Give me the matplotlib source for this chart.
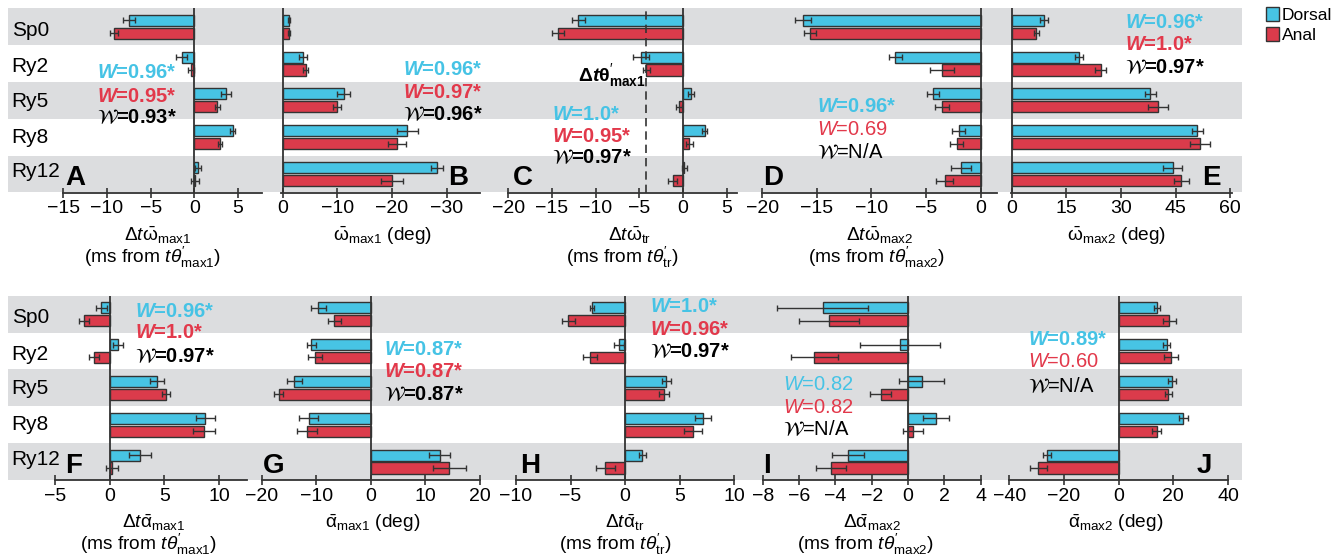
import matplotlib.pyplot as plt
from matplotlib.patches import Patch

plt.rcParams["font.family"] = ["Liberation Sans", "DejaVu Sans"]
plt.rcParams["mathtext.fontset"] = "custom"
plt.rcParams["mathtext.rm"] = "Liberation Sans"
plt.rcParams["mathtext.it"] = "Liberation Sans:italic"
plt.rcParams["mathtext.bf"] = "Liberation Sans:bold"
plt.rcParams["mathtext.bfit"] = "Liberation Sans:italic:bold"

W_PX, H_PX = 1342, 559
CYAN, RED, DARK, BAND = "#47C4E4", "#DB3B4B", "#333333", "#DCDDDF"
CYAN_TXT, RED_TXT = "#46C3E5", "#E2394B"

rows = ["Sp0", "Ry2", "Ry5", "Ry8", "Ry12"]

# --- top row: omega (dorsal / anal), mean and error --------------------------
a_dor = [-7.5, -1.45, 3.6, 4.4, 0.45]
a_dor_err = [0.65, 0.6, 0.6, 0.3, 0.35]
a_ana = [-9.2, -0.4, 2.6, 2.9, 0.1]
a_ana_err = [0.5, 0.35, 0.3, 0.25, 0.45]

b_dor = [-1.1, -3.7, -11.2, -22.8, -28.2]
b_dor_err = [0.2, 0.7, 1.2, 1.9, 1.1]
b_ana = [-1.1, -4.2, -9.9, -20.9, -20.0]
b_ana_err = [0.2, 0.5, 0.7, 1.7, 2.1]

c_dor = [-12.0, -4.8, 0.95, 2.5, 0.15]
c_dor_err = [0.75, 0.9, 0.38, 0.32, 0.3]
c_ana = [-14.3, -4.2, -0.4, 0.75, -1.15]
c_ana_err = [0.65, 0.38, 0.35, 0.38, 0.5]
c_theta_max1 = -4.2

d_dor = [-16.3, -7.8, -4.35, -2.0, -1.8]
d_dor_err = [0.75, 0.6, 0.55, 0.6, 0.9]
d_ana = [-15.6, -3.55, -3.55, -2.2, -3.3]
d_ana_err = [0.55, 1.1, 0.65, 0.6, 0.8]

e_dor = [8.8, 18.5, 38.1, 50.9, 44.2]
e_dor_err = [1.1, 1.2, 1.4, 1.5, 2.6]
e_ana = [6.8, 24.4, 40.2, 51.7, 46.6]
e_ana_err = [0.8, 1.4, 2.7, 2.8, 2.1]

# --- bottom row: alpha ----------------------------------------------------------
f_dor = [-0.75, 0.8, 4.3, 8.75, 2.8]
f_dor_err = [0.5, 0.45, 0.65, 0.85, 1.0]
f_ana = [-2.35, -1.45, 5.15, 8.6, 0.2]
f_ana_err = [0.42, 0.45, 0.4, 1.0, 0.55]

g_dor = [-9.6, -10.9, -14.0, -11.4, 12.6]
g_dor_err = [1.4, 0.8, 1.3, 1.8, 1.9]
g_ana = [-6.7, -10.2, -16.9, -11.7, 14.4]
g_ana_err = [1.2, 1.3, 0.8, 1.9, 3.1]

h_dor = [-3.05, -0.55, 3.8, 7.15, 1.6]
h_dor_err = [0.2, 0.43, 0.45, 0.75, 0.33]
h_ana = [-5.2, -3.2, 3.55, 6.25, -1.8]
h_ana_err = [0.6, 0.65, 0.45, 0.8, 0.85]

i_dor = [-4.7, -0.45, 0.75, 1.55, -3.3]
i_dor_err = [2.5, 2.2, 1.25, 0.73, 0.87]
i_ana = [-4.35, -5.15, -1.5, 0.3, -4.25]
i_ana_err = [1.65, 1.3, 0.57, 0.55, 0.83]

j_dor = [13.9, 17.6, 19.6, 23.7, -26.1]
j_dor_err = [1.1, 1.3, 1.4, 1.6, 1.5]
j_ana = [18.5, 19.1, 18.2, 13.9, -29.4]
j_ana_err = [2.4, 2.6, 1.3, 1.7, 3.1]

# W statistics: (dorsal, anal, combined), "*" = significant
a_stats = ("0.96*", "0.95*", "0.93*")
b_stats = ("0.96*", "0.97*", "0.96*")
c_stats = ("1.0*", "0.95*", "0.97*")
d_stats = ("0.96*", "0.69", "N/A")
e_stats = ("0.96*", "1.0*", "0.97*")
f_stats = ("0.96*", "1.0*", "0.97*")
g_stats = ("0.87*", "0.87*", "0.87*")
h_stats = ("1.0*", "0.96*", "0.97*")
i_stats = ("0.82", "0.82", "N/A")
j_stats = ("0.89*", "0.60", "N/A")

ROW_Y = {0: (8.3, 192.5), 1: (295.7, 480.0)}

panels = [
    dict(L="A", row=0, px=(63.3, 261.7), xlim=(-15, 7.7), ticks=[-15, -10, -5, 0, 5],
         d=(a_dor, a_dor_err, a_ana, a_ana_err), st=a_stats,
         st_xy=(96.7, [78.3, 101.7, 123.3]), let=65,
         lab=[(r"$\Delta t\mathrm{\bar{\omega}}_{\mathrm{max1}}$", 158),
              (r"(ms from $t\theta^{\prime}_{\mathrm{max1}}$)", 152.5)]),
    dict(L="B", row=0, px=(280.7, 480.0), xlim=(0.37, -36.1), ticks=[0, -10, -20, -30],
         d=(b_dor, b_dor_err, b_ana, b_ana_err), st=b_stats,
         st_xy=(403.3, [75, 98.3, 120]), let=448,
         lab=[(r"$\mathrm{\bar{\omega}}_{\mathrm{max1}}$ (deg)", 382.5)]),
    dict(L="C", row=0, px=(508.3, 737.0), xlim=(-20, 6.2), ticks=[-20, -15, -10, -5, 0, 5],
         d=(c_dor, c_dor_err, c_ana, c_ana_err), st=c_stats,
         st_xy=(551.7, [120, 141.7, 163.3]), let=513,
         lab=[(r"$\Delta t\mathrm{\bar{\omega}}_{\mathrm{tr}}$", 630),
              (r"(ms from $t\theta^{\prime}_{\mathrm{tr}}$)", 621.7)]),
    dict(L="D", row=0, px=(762.3, 996.7), xlim=(-20, 1.47), ticks=[-20, -15, -10, -5, 0],
         d=(d_dor, d_dor_err, d_ana, d_ana_err), st=d_stats,
         st_xy=(816.7, [111.7, 135, 158.3]), let=763,
         lab=[(r"$\Delta t\mathrm{\bar{\omega}}_{\mathrm{max2}}$", 880),
              (r"(ms from $t\theta^{\prime}_{\mathrm{max2}}$)", 876.7)]),
    dict(L="E", row=0, px=(1010.6, 1232.0), xlim=(-0.3, 60.5), ticks=[0, 15, 30, 45, 60],
         d=(e_dor, e_dor_err, e_ana, e_ana_err), st=e_stats,
         st_xy=(1125, [28.3, 50, 73.3]), let=1201.7,
         lab=[(r"$\mathrm{\bar{\omega}}_{\mathrm{max2}}$ (deg)", 1116.7)]),
    dict(L="F", row=1, px=(55.0, 247.3), xlim=(-5, 12.6), ticks=[-5, 0, 5, 10],
         d=(f_dor, f_dor_err, f_ana, f_ana_err), st=f_stats,
         st_xy=(135, [316.7, 338.3, 361.7]), let=65,
         lab=[(r"$\Delta t\mathrm{\bar{\alpha}}_{\mathrm{max1}}$", 153.3),
              (r"(ms from $t\theta^{\prime}_{\mathrm{max1}}$)", 148)]),
    dict(L="G", row=1, px=(261.7, 480.0), xlim=(-20, 20), ticks=[-20, -10, 0, 10, 20],
         d=(g_dor, g_dor_err, g_ana, g_ana_err), st=g_stats,
         st_xy=(384, [355, 376.7, 400]), let=263,
         lab=[(r"$\mathrm{\bar{\alpha}}_{\mathrm{max1}}$ (deg)", 372.5)]),
    dict(L="H", row=1, px=(516.0, 734.0), xlim=(-10, 10), ticks=[-10, -5, 0, 5, 10],
         d=(h_dor, h_dor_err, h_ana, h_ana_err), st=h_stats,
         st_xy=(650, [311.7, 335, 357.3]), let=520,
         lab=[(r"$\Delta t\mathrm{\bar{\alpha}}_{\mathrm{tr}}$", 625),
              (r"(ms from $t\theta^{\prime}_{\mathrm{tr}}$)", 615)]),
    dict(L="I", row=1, px=(762.7, 980.7), xlim=(-8, 4), ticks=[-8, -6, -4, -2, 0, 2, 4],
         d=(i_dor, i_dor_err, i_ana, i_ana_err), st=i_stats,
         st_xy=(783.3, [390, 413.3, 435]), let=763,
         lab=[(r"$\Delta\mathrm{\bar{\alpha}}_{\mathrm{max2}}$", 871.7),
              (r"(ms from $t\theta^{\prime}_{\mathrm{max2}}$)", 865)]),
    dict(L="J", row=1, px=(1009.3, 1228.0), xlim=(-40, 40), ticks=[-40, -20, 0, 20, 40],
         d=(j_dor, j_dor_err, j_ana, j_ana_err), st=j_stats,
         st_xy=(1028.3, [345, 366.7, 391.7]), let=1197,
         lab=[(r"$\mathrm{\bar{\alpha}}_{\mathrm{max2}}$ (deg)", 1115.8)]),
]


def fx(x):
    return x / W_PX


def fy(y):
    return 1 - y / H_PX


def rect(x0, x1, y0, y1):
    return [fx(x0), fy(y1), (x1 - x0) / W_PX, (y1 - y0) / H_PX]


fig = plt.figure(figsize=(W_PX / 100, H_PX / 100), dpi=100)

# shared grey row bands behind every panel
for r, (y0, y1) in ROW_Y.items():
    bg = fig.add_axes(rect(8.3, 1241.7, y0, y1), zorder=0)
    bg.set_xlim(0, 1); bg.set_ylim(4.5, -0.5); bg.axis("off")
    for k in (0, 2, 4):
        bg.axhspan(k - 0.5, k + 0.5, color=BAND, lw=0)
    for k, name in enumerate(rows):
        base = y0 + [27.2, 63.9, 98.8, 134.7, 168.9][k]
        fig.text(fx(11.7), fy(base), name, fontsize=15, va="baseline", ha="left")

ypos = list(range(len(rows)))
err_kw = dict(ecolor=DARK, elinewidth=1, capsize=2.5, capthick=1)
for p in panels:
    y0, y1 = ROW_Y[p["row"]]
    ax = fig.add_axes(rect(p["px"][0], p["px"][1], y0, y1), zorder=2)
    ax.set_facecolor("none")
    dor, dor_e, ana, ana_e = p["d"]
    ax.barh([y - 0.175 for y in ypos], dor, height=0.3, xerr=dor_e, color=CYAN,
            edgecolor=DARK, lw=1, error_kw=err_kw, zorder=3)
    ax.barh([y + 0.175 for y in ypos], ana, height=0.3, xerr=ana_e, color=RED,
            edgecolor=DARK, lw=1, error_kw=err_kw, zorder=3)
    ax.axvline(0, color=DARK, lw=1.3, zorder=4)
    if p["L"] == "C":
        ax.axvline(c_theta_max1, color=DARK, lw=1.2, ls=(0, (5, 3)), zorder=4)
    ax.set_xlim(*p["xlim"])
    ax.set_ylim(4.5, -0.5)
    ax.set_xticks(p["ticks"])
    ax.set_yticks([])
    for s in ("top", "left", "right"):
        ax.spines[s].set_visible(False)
    ax.spines["bottom"].set_color(DARK)
    ax.spines["bottom"].set_linewidth(1.3)
    ax.tick_params(axis="x", direction="inout", length=7, width=1.2, color=DARK,
                   labelsize=14, pad=2)

    # panel letter
    base = y0 + (176.7 if p["row"] == 0 else 177.6)
    fig.text(fx(p["let"]), fy(base), p["L"], fontsize=20, fontweight="bold",
             va="baseline", ha="left", zorder=5)

    # W statistics
    sx, sys_ = p["st_xy"]
    for k, (val, col) in enumerate(zip(p["st"], [CYAN_TXT, RED_TXT, "black"])):
        bold = val.endswith("*")
        if k < 2:
            s = (r"$\mathbfit{W}$" if bold else r"$\mathit{W}$") + "=" + val
            mf = "custom"
        else:
            s = r"$\mathcal{W}$" + "=" + val
            mf = "stix"
        fig.text(fx(sx), fy(sys_[k]), s, color=col, fontsize=14.5,
                 fontweight="bold" if bold else "normal", va="baseline",
                 ha="left", math_fontfamily=mf, zorder=5)

    # axis labels (one or two lines, each placed on its own)
    off = 0 if p["row"] == 0 else 287.5
    for k, (s, cx) in enumerate(p["lab"]):
        fig.text(fx(cx), fy([235.5, 257.0][k] + off), s, fontsize=13.8,
                 ha="center", va="center")

# theta'_max1 marker label in panel C
fig.text(fx(646), fy(81.5),
         r"$\mathbf{\Delta}\mathbfit{t}\mathbf{\theta}^{\prime}_{\mathbf{max1}}$",
         fontsize=14, ha="right", va="baseline")

handles = [Patch(facecolor=CYAN, edgecolor=DARK, lw=1),
           Patch(facecolor=RED, edgecolor=DARK, lw=1)]
fig.legend(handles, ["Dorsal", "Anal"], loc="upper left",
           bbox_to_anchor=(fx(1266), fy(7)), frameon=False, fontsize=12.5,
           handlelength=0.75, handleheight=0.9, handletextpad=0.15,
           labelspacing=0.2, borderpad=0, borderaxespad=0)

fig.savefig("out.png", dpi=100)
